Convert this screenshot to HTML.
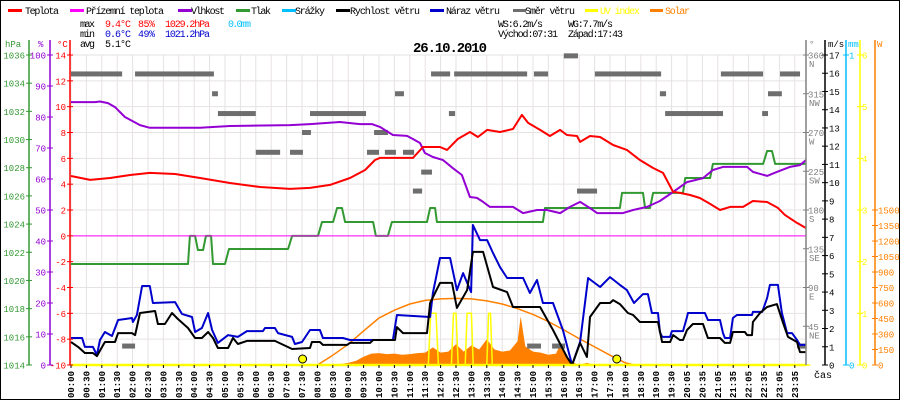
<!DOCTYPE html>
<html><head><meta charset="utf-8"><title>Weather 26.10.2010</title>
<style>
html,body{margin:0;padding:0;background:#fff;}
svg{display:block;font-family:"Liberation Mono",monospace;}
</style></head>
<body>
<svg id="chart" width="900" height="400" viewBox="0 0 900 400" xmlns="http://www.w3.org/2000/svg">
<rect x="0.5" y="0.5" width="899" height="399" fill="#fff" stroke="#000"/>
<g id="legend" font-size="10">
 <g><rect x="8" y="9" width="14" height="3" fill="#ff0000"/><text x="25" y="14" textLength="34">Teplota</text></g>
 <g><rect x="70" y="9" width="14" height="3" fill="#ff00ff"/><text x="86" y="14" textLength="78">Přízemní teplota</text></g>
 <g><rect x="178" y="9" width="14" height="3" fill="#9400d3"/><text x="191" y="14" textLength="34">Vlhkost</text></g>
 <g><rect x="236" y="9" width="14" height="3" fill="#339933"/><text x="251" y="14" textLength="20">Tlak</text></g>
 <g><rect x="282" y="9" width="14" height="3" fill="#00bfff"/><text x="295" y="14" textLength="30">Srážky</text></g>
 <g><rect x="336" y="9" width="14" height="3" fill="#000"/><text x="350" y="14" textLength="70">Rychlost větru</text></g>
 <g><rect x="430" y="9" width="14" height="3" fill="#0000cc"/><text x="446" y="14" textLength="54">Náraz větru</text></g>
 <g><rect x="513" y="9" width="13" height="3" fill="#6e6e6e"/><text x="525" y="14" textLength="50">Směr větru</text></g>
 <g><rect x="585" y="9" width="13" height="3" fill="#ffff00"/><text x="600" y="14" textLength="40" fill="#ffff00">UV index</text></g>
 <g><rect x="650" y="9" width="13" height="3" fill="#ff8000"/><text x="665" y="14" textLength="25" fill="#ff8000">Solar</text></g>
</g>
<g id="stats" font-size="10">
 <text x="80" y="27" textLength="15">max</text>
 <text x="105" y="27" textLength="26" fill="#ff0000">9.4°C</text>
 <text x="138" y="27" textLength="17" fill="#ff0000">85%</text>
 <text x="165" y="27" textLength="45" fill="#ff0000">1029.2hPa</text>
 <text x="228" y="27" textLength="23" fill="#00bfff">0.0mm</text>
 <text x="80" y="37" textLength="15">min</text>
 <text x="105" y="37" textLength="26" fill="#0000cc">0.6°C</text>
 <text x="138" y="37" textLength="17" fill="#0000cc">49%</text>
 <text x="165" y="37" textLength="45" fill="#0000cc">1021.2hPa</text>
 <text x="80" y="47" textLength="15">avg</text>
 <text x="105" y="47" textLength="26">5.1°C</text>
 <text x="498" y="27" textLength="45">WS:6.2m/s</text>
 <text x="568" y="27" textLength="45">WG:7.7m/s</text>
 <text x="498" y="37" textLength="60">Východ:07:31</text>
 <text x="568" y="37" textLength="55">Západ:17:43</text>
</g>
<text x="413" y="52" font-size="14" font-weight="bold" textLength="74">26.10.2010</text>
<g id="grid"></g>
<g id="plot"></g>
<g id="axes"></g>
</svg>
<script>
// ---------- data ----------
const timeLabels = ["00:00","00:30","01:00","01:30","02:00","02:30","03:00","03:30","04:00","04:30","05:00","05:30","06:00","06:30","07:00","07:30","08:00","08:30","09:00","09:30","10:00","10:30","11:00","11:30","12:00","12:30","13:00","13:30","14:00","14:30","15:00","15:30","16:00","16:30","17:00","17:30","18:00","18:30","19:00","19:30","20:05","20:35","21:05","21:35","22:05","22:35","23:05","23:35"];
const tempTicks = [14,12,10,8,6,4,2,0,-2,-4,-6,-8,-10];
const humTicks = [100,90,80,70,60,50,40,30,20,10,0];
const presTicks = [1036,1034,1032,1030,1028,1026,1024,1022,1020,1018,1016,1014];
const dirTicks = [360,315,270,225,180,135,90,45];
const dirNames = ["N","NW","W","SW","S","SE","E","NE"];
const windTicks = [0,1,2,3,4,5,6,7,8,9,10,11,12,13,14,15,16,17];
const uvTicks = [0,1,2,3,4,5,6];
const solarTicks = [0,150,300,450,600,750,900,1050,1200,1350,1500];

const tempT = [0,0.62,1.27,1.92,2.56,3.38,4.19,5.16,6.14,7.11,7.76,8.41,9.06,9.55,9.87,10.03,11.1,11.43,11.98,12.21,12.56,12.95,13.21,13.51,13.93,14.35,14.64,14.84,15.23,15.55,15.88,16.1,16.43,16.53,16.85,17.18,17.6,18.05,18.47,18.9,19.22,19.55,19.77,20.1,20.42,20.75,21.07,21.4,21.82,22.14,22.6,22.95,23.18,23.57,23.86];
const tempV = [4.63,4.33,4.48,4.71,4.87,4.79,4.48,4.09,3.78,3.63,3.71,3.94,4.48,5.10,5.87,6.03,6.03,6.88,6.88,6.65,7.50,8.04,7.65,8.20,8.04,8.27,9.36,8.74,8.20,7.73,8.20,7.81,7.73,7.27,7.73,7.65,7.03,6.65,5.87,5.25,4.87,3.40,3.32,3.16,2.93,2.47,2.00,2.24,2.24,2.70,2.62,2.16,1.62,1.00,0.61];

const humT = [0,0.78,0.94,1.2,1.43,1.75,2.24,2.56,4.19,5.16,7.11,7.76,8.73,9.38,9.77,10.03,10.45,10.91,11.1,11.33,11.49,11.75,12.08,12.4,12.69,12.95,13.18,13.38,13.6,14.35,14.68,15.13,15.45,15.88,16.2,16.53,16.85,17.08,17.92,18.25,18.7,19.12,19.55,20.0,20.52,20.84,21.17,21.95,22.14,22.6,22.92,23.34,23.67,23.86];
const humV = [84.8,84.8,85.0,84.5,83.2,80.0,77.4,76.5,76.5,77.1,77.4,77.7,78.4,77.7,77.7,76.8,74.2,73.9,72.9,71.6,68.4,67.1,66.1,63.5,61.3,54.2,53.9,52.6,51.0,51.0,49.0,50.0,50.0,49.0,51.0,52.6,50.6,49.0,49.0,50.0,51.0,52.9,55.8,59.0,60.3,62.9,63.9,63.9,62.3,61.0,62.3,63.9,64.5,66.1];

const presT = [0,3.8,3.86,4.03,4.12,4.29,4.38,4.55,4.61,5.0,5.13,7.05,7.18,8.02,8.15,8.51,8.64,8.8,8.9,9.81,9.9,10.29,10.42,11.56,11.66,11.82,11.88,15.32,15.39,17.82,17.89,18.57,18.64,18.8,18.9,19.87,19.94,20.75,20.84,22.47,22.6,22.76,22.86,23.86];
const presV = [1021.17,1021.17,1023.16,1023.16,1022.16,1022.16,1023.16,1023.16,1021.17,1021.17,1022.23,1022.23,1023.16,1023.16,1024.15,1024.15,1025.14,1025.14,1024.15,1024.15,1023.16,1023.16,1024.15,1024.15,1025.14,1025.14,1024.15,1024.15,1025.14,1025.14,1026.21,1026.21,1025.14,1025.14,1026.21,1026.21,1027.27,1027.27,1028.27,1028.27,1029.19,1029.19,1028.27,1028.27];

const windT = [0,0.23,0.45,0.71,0.84,1.01,1.1,1.43,1.53,1.98,2.08,2.24,2.73,2.82,3.05,3.28,3.47,3.8,4.03,4.25,4.45,4.61,4.77,5.1,5.26,5.42,5.71,6.62,7.18,7.76,7.82,8.08,8.18,8.96,9.06,9.71,9.81,10.52,10.58,10.78,11.56,11.66,11.98,12.37,12.53,12.86,13.05,13.38,13.7,14.16,14.35,15.23,15.65,16.1,16.27,16.53,16.75,16.85,17.18,17.5,17.6,17.82,18.08,18.25,18.47,19.06,19.19,19.45,19.55,19.77,19.87,20.0,20.19,20.52,20.68,21.07,21.23,21.4,21.49,21.88,21.95,22.11,22.14,22.37,22.6,22.92,23.12,23.28,23.57,23.67,23.86];
const windV = [1.26,0.99,0.66,0.66,0.49,0.99,1.26,1.26,1.75,1.75,1.64,2.85,2.96,2.25,2.25,2.85,2.52,2.03,1.48,1.48,1.81,1.48,0.93,0.93,1.48,1.15,1.32,1.32,0.88,0.93,1.26,1.26,1.10,1.10,1.21,1.21,1.37,1.37,2.08,1.75,1.75,3.40,4.50,4.50,3.13,4.11,6.20,6.20,4.28,4.00,3.18,3.18,1.92,0.44,0,1.21,0.44,2.63,3.40,3.40,3.56,3.34,2.85,2.74,2.36,2.36,1.26,1.26,1.64,1.37,1.37,1.92,2.25,2.25,1.48,1.48,1.21,1.21,1.81,1.81,1.64,1.64,2.36,2.85,3.18,3.34,2.30,1.54,1.26,0.71,0.71];

const gustT = [0,0.36,0.45,0.71,0.84,0.94,1.1,1.33,1.53,1.98,2.01,2.14,2.31,2.56,2.66,3.38,3.6,3.93,4.03,4.25,4.45,4.58,4.77,5.1,5.42,5.71,6.23,6.3,6.62,6.72,7.18,7.27,7.5,7.76,8.08,8.18,8.83,9.06,10.45,10.58,11.66,11.75,11.98,12.31,12.53,12.73,12.99,13.05,13.28,13.51,13.7,13.93,14.16,14.68,14.9,15.13,15.32,15.65,15.97,16.27,16.53,16.79,17.18,17.5,17.82,18.05,18.28,18.57,18.73,18.86,19.06,19.12,19.19,19.45,19.51,19.87,20.0,20.03,20.58,20.68,21.07,21.17,21.23,21.4,21.49,21.62,22.11,22.14,22.44,22.6,22.69,22.95,23.08,23.25,23.41,23.57,23.67,23.86];
const gustV = [1.48,1.48,0.99,0.99,0.55,1.37,1.81,1.59,2.47,2.58,2.36,2.74,4.33,4.33,3.40,3.45,2.80,2.63,1.81,2.03,2.85,1.92,1.21,1.64,1.54,1.86,1.86,2.03,2.03,1.75,1.54,1.15,1.26,1.92,1.92,1.48,1.48,1.37,1.37,2.74,2.63,3.95,5.87,5.87,4.11,5.04,4.00,7.68,6.85,6.85,6.14,5.37,4.77,4.77,3.95,4.66,3.40,3.40,1.92,0,1.26,4.77,4.28,4.82,4.39,4.11,3.40,3.89,3.89,2.85,2.85,1.81,1.54,1.54,1.86,1.86,2.63,2.85,2.85,2.47,2.47,1.75,1.48,1.48,2.58,2.74,2.74,2.91,2.91,3.67,4.39,4.39,2.85,1.75,1.75,1.37,1.10,1.10];

// wind direction segments: start hour, end hour, degrees
const dirStart = [0,1.66,2.08,4.58,4.77,6.0,7.11,7.5,7.76,9.61,9.84,10.19,10.52,10.78,11.1,11.37,11.69,12.27,12.44,14.81,15.03,15.62,16.0,16.43,17.01,19.12,19.29,21.1,22.44,22.63,23.02,23.57];
const dirEnd   = [1.66,2.08,4.64,4.77,6.0,6.79,7.53,7.79,9.58,10.0,10.29,10.55,10.81,11.14,11.4,11.72,12.31,12.47,14.81,15.26,15.49,16.04,16.46,17.08,19.16,19.32,21.17,22.47,22.63,23.08,23.67,23.86];
const dirDeg   = [338,22,338,315,292,247,247,270,292,247,270,247,315,247,202,224,338,292,338,22,338,22,359,202,338,315,292,338,292,315,338,22];

const solarT = [8.0,8.25,8.5,8.75,9.0,9.25,9.5,9.75,10.0,10.25,10.5,10.75,11.0,11.25,11.5,11.75,12.0,12.25,12.5,12.75,13.0,13.25,13.5,13.75,14.0,14.25,14.5,14.6,14.75,15.0,15.25,15.5,15.75,15.9,16.0,16.25,16.5,16.75,17.0];
const solarV = [0,0,5,10,20,40,80,110,115,105,110,100,105,115,120,170,120,130,200,130,190,150,250,150,130,140,230,470,180,130,120,100,110,210,120,30,0,20,0];
const clearT = [8.0,8.5,9.0,9.5,10.0,10.5,11.0,11.5,12.0,12.5,13.0,13.5,14.0,14.5,15.0,15.5,16.0,16.5,17.0,17.5,18.0,18.3];
const clearV = [0,95,200,330,455,530,590,625,640,645,640,620,590,545,490,420,340,255,175,95,20,0];

const uvT = [0,11.6,11.68,11.85,11.93,12.35,12.42,12.5,12.57,12.8,12.86,13.0,13.06,13.5,13.56,13.62,13.68,24];
const uvV = [0,0,1,1,0,0,1,1,0,0,1,1,0,0,1,1,0,0];
const sunTimes = [7.52,17.72];

// ---------- scales ----------
const X0=71, XS=30.8, YT=55, YB=365, XR=806;
const xT = h => X0 + h*XS;
const yTemp = v => YT + (14 - v)*(YB-YT)/24;
const yHum = v => YB - v*(YB-YT)/100;
const yPres = v => YB - (v-1014)*(YB-YT)/22;
const yDir = v => YB - v*(YB-YT)/360;
const yWind = v => YB - v*(YB-YT)/17;
const yUV = v => YB - v*(YB-YT)/6;
const ySol = v => YB - v*155/1500;

const NS="http://www.w3.org/2000/svg";
function mk(tag, attrs, parent){const e=document.createElementNS(NS,tag);for(const k in attrs)e.setAttribute(k,attrs[k]);parent.appendChild(e);return e;}
const grid=document.getElementById('grid'), plot=document.getElementById('plot'), axes=document.getElementById('axes');

// grid
timeLabels.forEach((lab,i)=>{
  const x=X0+i*15.4;
  const l=mk('line',{x1:x,x2:x,y1:YT,y2:YB,stroke:'#e6e2e2','stroke-width':1},grid);
  
  
  mk('line',{x1:x,x2:x,y1:YB,y2:YB+3,stroke:'#000'},axes);
  const t=mk('text',{x:0,y:0,'font-size':9,'font-weight':'bold',textLength:27,transform:`translate(${x+3},${YB+33}) rotate(-90)`},axes);
  t.textContent=lab;
  
  
});
tempTicks.forEach(v=>{
  const y=yTemp(v);
  const l=mk('line',{x1:X0,x2:XR,y1:y,y2:y,stroke:'#e6e2e2'},grid);
  
  
});

function poly(ts,vs,yf,color,w,name){
  const pts=ts.map((t,i)=>xT(t).toFixed(1)+','+yf(vs[i]).toFixed(1)).join(' ');
  const p=mk('polyline',{points:pts,fill:'none',stroke:color,'stroke-width':w,'stroke-linejoin':'round'},plot);
  
  
  return p;
}
// solar area
{
  let pts=xT(solarT[0])+','+YB+' '+solarT.map((t,i)=>xT(t).toFixed(1)+','+ySol(solarV[i]).toFixed(1)).join(' ')+' '+xT(solarT[solarT.length-1])+','+YB;
  const a=mk('polygon',{points:pts,fill:'#ff8000'},plot);
  
  
}
poly(clearT,clearV,ySol,'#ff8000',1.5,'solar-clear-sky-line');
// wind direction bars
dirDeg.forEach((d,i)=>{
  const r=mk('rect',{x:xT(dirStart[i]),y:yDir(d)-2.5,width:Math.max(2,xT(dirEnd[i])-xT(dirStart[i])),height:5,fill:'#6e6e6e'},plot);
  
  
});
poly(presT,presV,yPres,'#339933',2,'pressure-line');
poly(humT,humV,yHum,'#9400d3',2,'humidity-line');
poly(tempT,tempV,yTemp,'#ff0000',2,'temperature-line');
{
  const l=mk('line',{x1:X0,x2:XR,y1:yTemp(0),y2:yTemp(0),stroke:'#ff00ff','stroke-width':1},plot);
  
  
}
poly(uvT,uvV,yUV,'#ffff00',1.5,'uv-index-line');
poly(gustT,gustV,yWind,'#0000cc',2,'wind-gust-line');
poly(windT,windV,yWind,'#000000',2,'wind-speed-line');
{
  const l=mk('line',{x1:X0,x2:XR,y1:YB,y2:YB,stroke:'#ffff00','stroke-width':2.5},plot);
  
  
}
sunTimes.forEach(t=>{
  const c=mk('circle',{cx:xT(t),cy:YB-6,r:4,fill:'#ffff00',stroke:'#000','stroke-width':1},plot);
  
  
});

// axes
function axis(x,color,ticks,yf,labX,anchor,fmt,name,top){
  const g=mk('g',{},axes);
  
  
  mk('line',{x1:x,x2:x,y1:top,y2:YB,stroke:color,'stroke-width':1.5},g);
  ticks.forEach(v=>{
    const y=yf(v);
    mk('line',{x1:x-3,x2:x+3,y1:y,y2:y,stroke:color,'stroke-width':1},g);
    const t=mk('text',{x:labX,y:y+3.5,'font-size':9,fill:color,'text-anchor':anchor},g);
    t.textContent=fmt(v);
    
    
  });
}
axis(29,'#339933',presTicks,yPres,25,'end',v=>v,'pressure-axis',40);
axis(50,'#9400d3',humTicks,yHum,46,'end',v=>v,'humidity-axis',40);
axis(70,'#ff0000',tempTicks,yTemp,66,'end',v=>v,'temperature-axis',40);
axis(825,'#000',windTicks,yWind,829,'start',v=>v,'wind-speed-axis',40);
axis(846,'#00bfff',[0,1],v=>YB-v*(YB-YT),849,'start',v=>v,'rain-axis',40);
axis(860,'#ffff00',uvTicks,yUV,862,'start',v=>v,'uv-axis',40);
axis(875,'#ff8000',solarTicks,ySol,878,'start',v=>v,'solar-axis',40);
{
  const g=mk('g',{},axes);
  
  
  mk('line',{x1:806,x2:806,y1:40,y2:YB,stroke:'#808080','stroke-width':1.5},g);
  dirTicks.forEach((d,i)=>{
    const y=yDir(d);
    mk('line',{x1:803,x2:809,y1:y,y2:y,stroke:'#808080'},g);
    const t=mk('text',{x:808,y:y+3.5,'font-size':9,fill:'#808080'},g);
    t.textContent=d;
    
    
    const n=mk('text',{x:809,y:y+12,'font-size':9,fill:'#808080'},g);
    n.textContent=dirNames[i];
    
    
  });
}
[[5,'hPa','#339933'],[38,'%','#9400d3'],[57,'°C','#ff0000'],[809,'°','#808080'],[828,'m/s','#000'],[848,'mm','#00bfff'],[877,'W','#ff8000']].forEach(u=>{
  const t=mk('text',{x:u[0],y:47,'font-size':9,fill:u[2]},axes);
  t.textContent=u[1];
  
  
});
{
  const t=mk('text',{x:814,y:378,'font-size':10},axes);
  t.textContent='čas';
  
  
}
</script>
</body></html>
